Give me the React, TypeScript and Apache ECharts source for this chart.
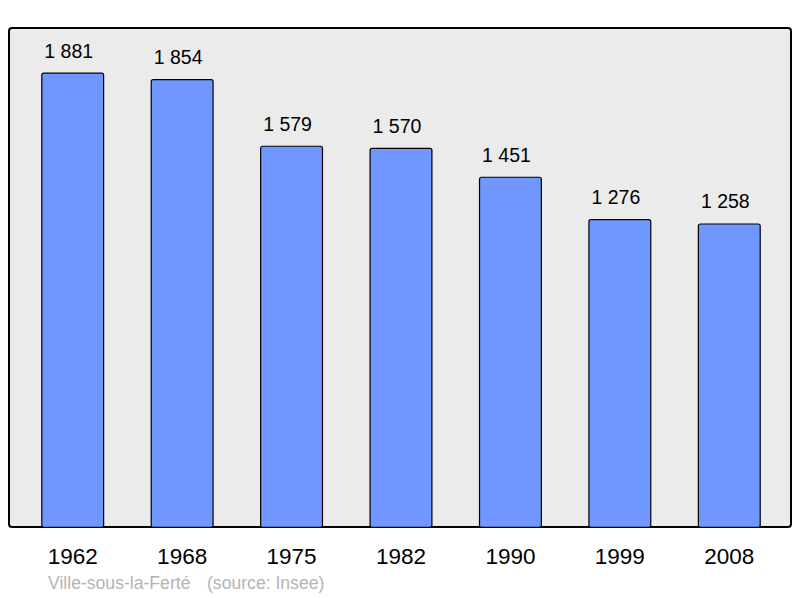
import React, { useEffect, useRef } from "react";
import * as echarts from "echarts";

const years = ["1962", "1968", "1975", "1982", "1990", "1999", "2008"];
const population = [1881, 1854, 1579, 1570, 1451, 1276, 1258];
const placeName = "Ville-sous-la-Ferté";
const sourceText = "(source: Insee)";

const fmt = (v: number) => {
  const s = String(v);
  return s.replace(/\B(?=(\d{3})+(?!\d))/g, " ");
};

export default function App() {
  const ref = useRef<HTMLDivElement>(null);
  useEffect(() => {
    if (!ref.current) return;
    const chart = echarts.init(ref.current, null, { renderer: "svg" });
    const maxVal = Math.max(...population) * 1.1;
    const footFont = "17.6px 'Liberation Sans', Arial, sans-serif";
    chart.setOption({
      animation: false,
      backgroundColor: "#ffffff",
      textStyle: { fontFamily: "Liberation Sans, Arial, sans-serif" },
      graphic: [
        {
          type: "rect",
          z: -10,
          shape: { x: 9, y: 28, width: 782, height: 499, r: 3 },
          style: { fill: "#ebebeb", stroke: "#000000", lineWidth: 2 },
          silent: true,
        },
        {
          type: "text",
          left: 48,
          top: 574,
          style: { text: placeName, fill: "#b4b4b4", font: footFont },
        },
        {
          type: "text",
          left: 207,
          top: 574,
          style: { text: sourceText, fill: "#b4b4b4", font: footFont },
        },
      ],
      grid: { left: 18, right: 16, top: 27, bottom: 70, containLabel: false },
      xAxis: {
        type: "category",
        data: years,
        axisLine: { show: false },
        axisTick: { show: false },
        axisLabel: {
          color: "#000",
          fontSize: 22.5,
          margin: 17,
          fontFamily: "Liberation Sans, Arial, sans-serif",
        },
      },
      yAxis: {
        type: "value",
        min: 0,
        max: maxVal,
        show: false,
        splitLine: { show: false },
      },
      series: [
        {
          type: "bar",
          data: population,
          barWidth: "57.6%",
          itemStyle: {
            color: "#7097ff",
            borderColor: "#000",
            borderWidth: 1.2,
            borderRadius: 2,
          },
          label: {
            show: true,
            position: "top",
            distance: 12,
            offset: [-4, 0],
            color: "#000",
            fontSize: 19.5,
            fontFamily: "Liberation Sans, Arial, sans-serif",
            formatter: (p: any) => fmt(p.value),
          },
        },
      ],
    });
    return () => chart.dispose();
  }, []);
  return <div ref={ref} style={{ width: 800, height: 598, position: "absolute", left: 0, top: 0 }} />;
}
